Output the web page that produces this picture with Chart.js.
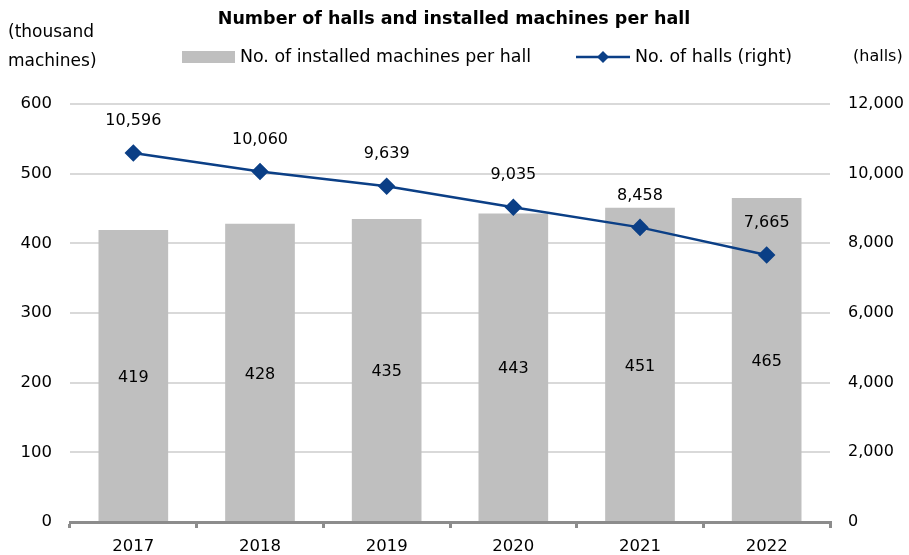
<!DOCTYPE html>
<html>
<head>
<meta charset="utf-8">
<script src="https://cdn.jsdelivr.net/npm/chart.js@4/dist/chart.umd.min.js"></script>
<style>
  html, body { margin: 0; padding: 0; background: #fff; }
  #wrap { width: 909px; height: 555px; position: relative; }
</style>
</head>
<body>
<div id="wrap"><canvas id="c" width="909" height="555"></canvas></div>
<script>
const years = ['2017', '2018', '2019', '2020', '2021', '2022'];
const machinesPerHall = [419, 428, 435, 443, 451, 465];
const halls = [10596, 10060, 9639, 9035, 8458, 7665];
const leftTicks = [0, 100, 200, 300, 400, 500, 600];
const rightTicks = [0, 2000, 4000, 6000, 8000, 10000, 12000];

const FONT = '"DejaVu Sans", "Liberation Sans", sans-serif';
const BAR_COLOR = '#bfbfbf';
const LINE_COLOR = '#0b3f86';

const fmt = v => v.toLocaleString('en-US');

// Title, unit captions, legend and value labels
const decorations = {
  id: 'decorations',
  afterDatasetsDraw(chart) {
    const ctx = chart.ctx;
    ctx.save();
    ctx.fillStyle = '#000';
    ctx.textBaseline = 'middle';

    // title
    ctx.font = 'bold 17.5px ' + FONT;
    ctx.textAlign = 'center';
    ctx.fillText('Number of halls and installed machines per hall', 454, 19);

    // unit captions
    ctx.font = '17px ' + FONT;
    ctx.textAlign = 'left';
    ctx.fillText('(thousand', 8, 33);
    ctx.fillText('machines)', 8, 62);
    ctx.font = '16px ' + FONT;
    ctx.fillText('(halls)', 853, 57);

    // legend
    const ds0 = chart.data.datasets[0], ds1 = chart.data.datasets[1];
    ctx.fillStyle = ds0.backgroundColor;
    ctx.fillRect(182, 51, 53, 12);
    ctx.fillStyle = '#000';
    ctx.font = '17.4px ' + FONT;
    ctx.fillText(ds0.label, 240, 57);
    ctx.strokeStyle = ds1.borderColor;
    ctx.lineWidth = 2.5;
    ctx.beginPath(); ctx.moveTo(576, 57); ctx.lineTo(630, 57); ctx.stroke();
    ctx.fillStyle = ds1.borderColor;
    ctx.beginPath();
    ctx.moveTo(603, 51); ctx.lineTo(609, 57); ctx.lineTo(603, 63); ctx.lineTo(597, 57);
    ctx.closePath(); ctx.fill();
    ctx.fillStyle = '#000';
    ctx.fillText(ds1.label, 635, 57);

    // value labels
    ctx.font = '16px ' + FONT;
    ctx.textAlign = 'center';
    const barMeta = chart.getDatasetMeta(0);
    barMeta.data.forEach((el, i) => {
      const mid = (el.y + el.base) / 2;
      ctx.fillText(String(machinesPerHall[i]), el.x, mid + 2);
    });
    const lineMeta = chart.getDatasetMeta(1);
    lineMeta.data.forEach((el, i) => {
      ctx.fillText(fmt(halls[i]), el.x, el.y - 32);
    });
    ctx.restore();
  }
};

new Chart(document.getElementById('c'), {
  data: {
    labels: years,
    datasets: [
      {
        type: 'bar',
        label: 'No. of installed machines per hall',
        data: machinesPerHall,
        backgroundColor: BAR_COLOR,
        barPercentage: 0.55,
        categoryPercentage: 1.0,
        yAxisID: 'y',
        order: 2
      },
      {
        type: 'line',
        label: 'No. of halls (right)',
        data: halls,
        borderColor: LINE_COLOR,
        backgroundColor: LINE_COLOR,
        borderWidth: 2.5,
        pointStyle: 'rectRot',
        pointRadius: 7,
        pointHoverRadius: 7,
        tension: 0,
        yAxisID: 'y1',
        order: 1
      }
    ]
  },
  options: {
    responsive: false,
    animation: false,
    events: [],
    layout: { padding: { top: 104, left: 0, right: 0, bottom: 0 } },
    plugins: { legend: { display: false }, title: { display: false }, tooltip: { enabled: false } },
    scales: {
      x: {
        grid: { offset: true, drawOnChartArea: false, drawTicks: true, tickLength: 6, color: '#8c8c8c', lineWidth: 3 },
        border: { display: true, color: '#8c8c8c', width: 3 },
        ticks: { color: '#000', font: { family: FONT, size: 16.5 }, padding: 9 },
        afterFit(s) { s.height = 33; }
      },
      y: {
        position: 'left',
        min: 0, max: 600,
        afterBuildTicks(s) { s.ticks = leftTicks.map(v => ({ value: v })); },
        grid: { color: '#d9d9d9', lineWidth: 2, drawTicks: false },
        border: { display: false },
        ticks: { color: '#000', font: { family: FONT, size: 16.5 }, padding: 18 },
        afterFit(s) { s.width = 70; }
      },
      y1: {
        position: 'right',
        min: 0, max: 12000,
        afterBuildTicks(s) { s.ticks = rightTicks.map(v => ({ value: v })); },
        grid: { drawOnChartArea: false, drawTicks: false },
        border: { display: false },
        ticks: { color: '#000', font: { family: FONT, size: 16 }, padding: 18, callback: v => fmt(v) },
        afterFit(s) { s.width = 79; }
      }
    }
  },
  plugins: [decorations]
});
</script>
</body>
</html>
